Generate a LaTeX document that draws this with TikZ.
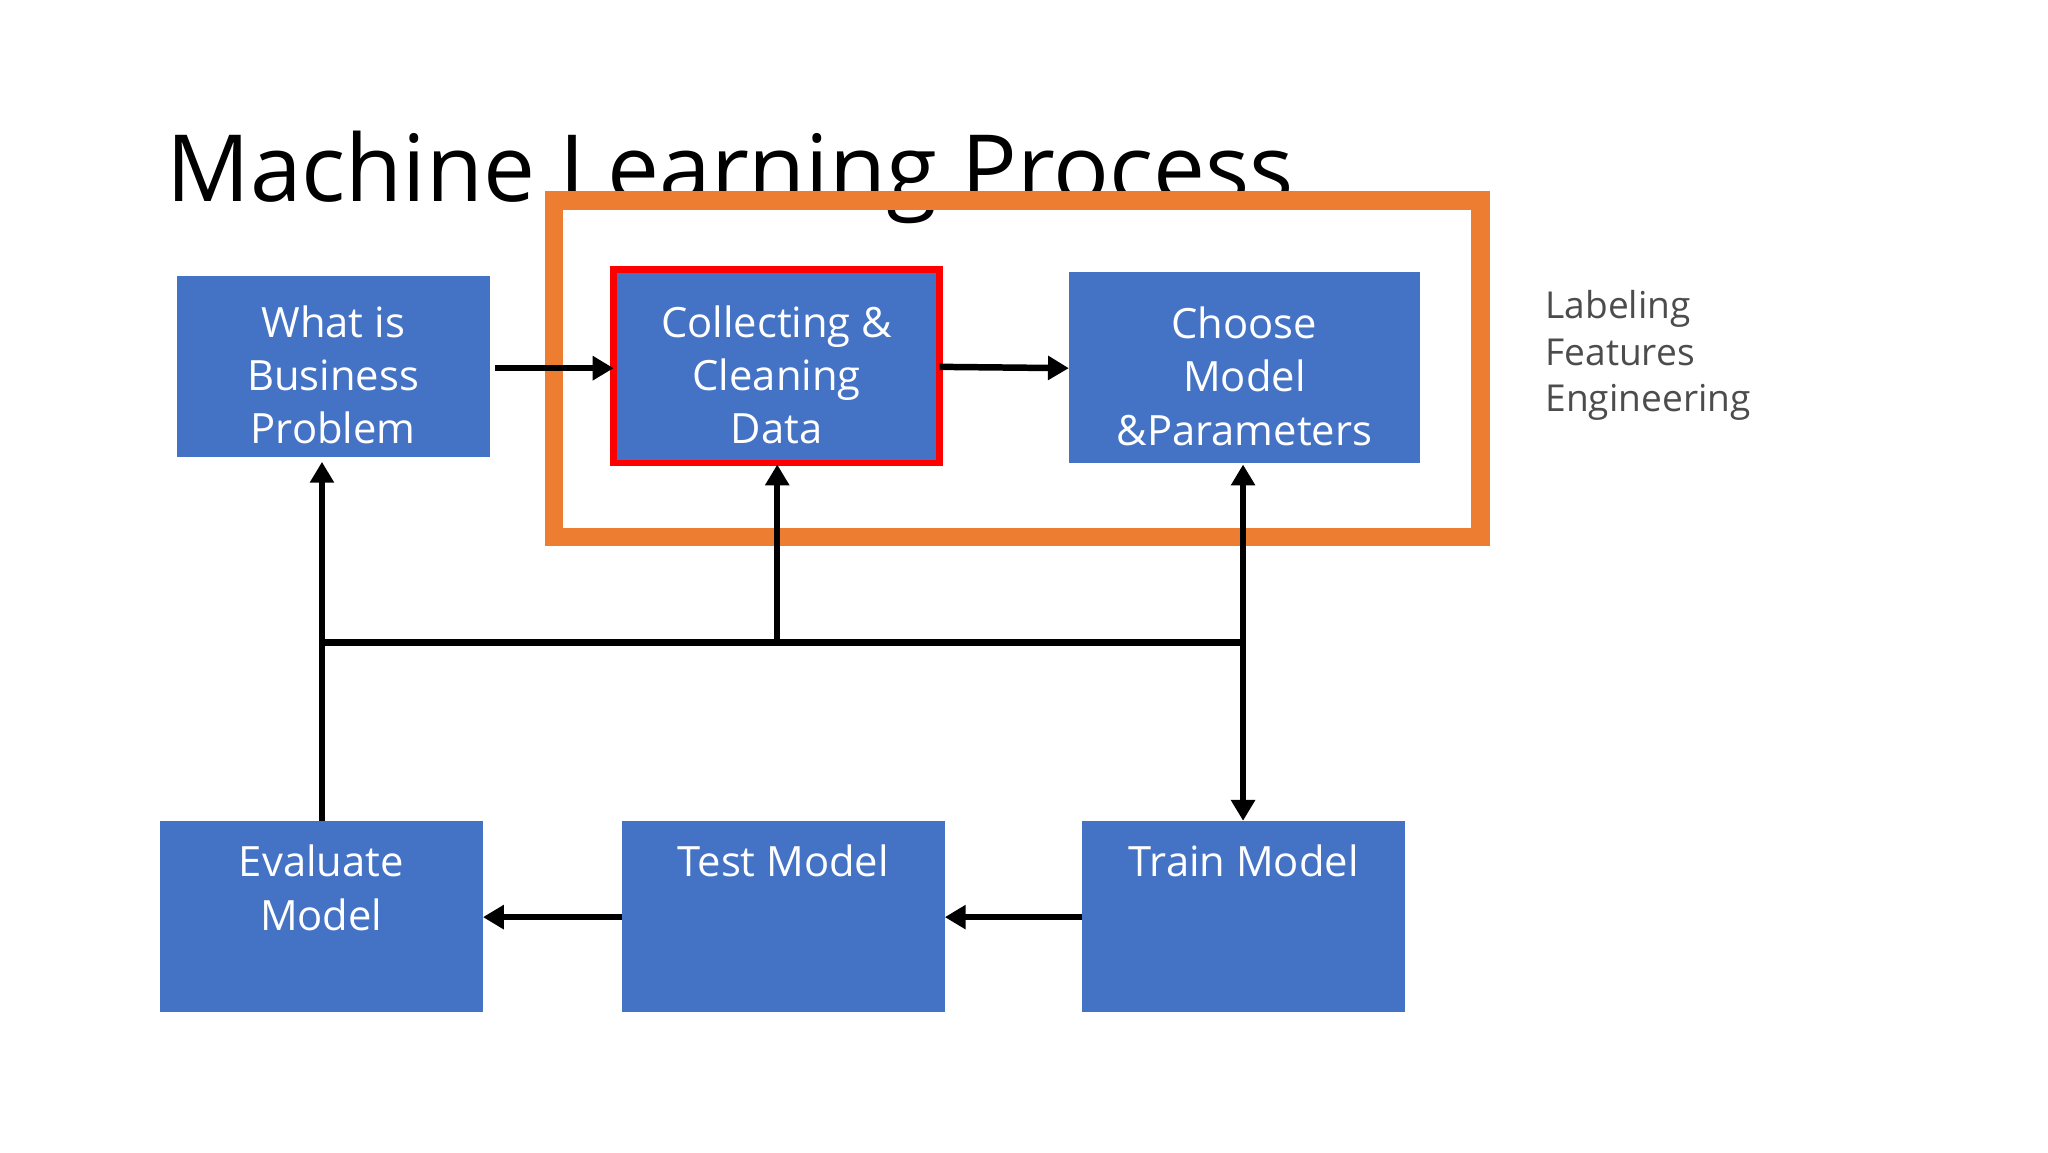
\documentclass[tikz,border=0pt]{standalone}
\usepackage{fontspec}
\setmainfont{Open Sans}
\usetikzlibrary{arrows.meta}
\definecolor{bx}{HTML}{4472C4}
\definecolor{og}{HTML}{ED7D31}
\begin{document}
\begin{tikzpicture}[x=0.02cm,y=-0.02cm,
  box/.style={fill=bx,draw=none,text=white,font=\fontsize{18}{23}\selectfont,align=center,inner sep=0},
  ln/.style={line width=2.8pt,black},
  ar/.style={ln,-{Triangle[length=9pt,width=10pt]}}]
\useasboundingbox[fill=white] (0,0) rectangle (1552,873);
\node[anchor=base west,font=\fontsize{40}{48}\selectfont] (title) at (120,153) {Machine Learning Process};
\draw[og,line width=14\pgflinewidth*0+0.28cm] (420,152) rectangle (1122,407);
\fill[bx] (134,209) rectangle (371,346); \node[box] (biz) at (252.5,284) {What is\\Business\\Problem};
\coordinate (bizL) at (134,209);
\fill[bx] (465,204) rectangle (712,351);
\draw[red,line width=0.1cm] (465,204) rectangle (712,351);
\node[box] (col) at (588.5,284) {Collecting \&\\Cleaning\\Data};
\fill[bx] (810,206) rectangle (1076,351); \node[box] (cho) at (943,285) {Choose\\Model\\\&Parameters};
\fill[bx] (121,622) rectangle (366,767); \node[box,anchor=north] (eva) at (243.5,640) {Evaluate\\Model};
\fill[bx] (471,622) rectangle (716,767); \node[box,anchor=north] (tst) at (593.5,640) {Test Model};
\fill[bx] (820,622) rectangle (1065,767); \node[box,anchor=north] (trn) at (942.5,640) {Train Model};
\node[anchor=north west,align=left,text=black!70,font=\fontsize{16}{20}\selectfont] (lab) at (1165,214) {Labeling\\Features\\Engineering};
\coordinate (a1) at (375,279); \coordinate (a2) at (465,279);
\coordinate (b1) at (712,278); \coordinate (b2) at (810,279);
\draw[ar] (a1) -- (a2);
\draw[ar] (b1) -- (b2);
\coordinate (h1) at (244,487); \coordinate (h2) at (942,487); \coordinate (hc) at (589,487);
\draw[ln] (h1) -- (h2);
\coordinate (e0) at (244,622); \coordinate (e1) at (244,350);
\draw[ar] (e0) -- (e1);
\coordinate (c1) at (589,352);
\draw[ar] (hc) -- (c1);
\coordinate (t0) at (942,352); \coordinate (t1) at (942,622);
\draw[ln,{Triangle[length=9pt,width=10pt]}-{Triangle[length=9pt,width=10pt]}] (t0) -- (t1);
\coordinate (r1) at (820,695); \coordinate (r2) at (716,695);
\coordinate (s1) at (471,695); \coordinate (s2) at (366,695);
\draw[ar] (r1) -- (r2);
\draw[ar] (s1) -- (s2);
\end{tikzpicture}
\end{document}
